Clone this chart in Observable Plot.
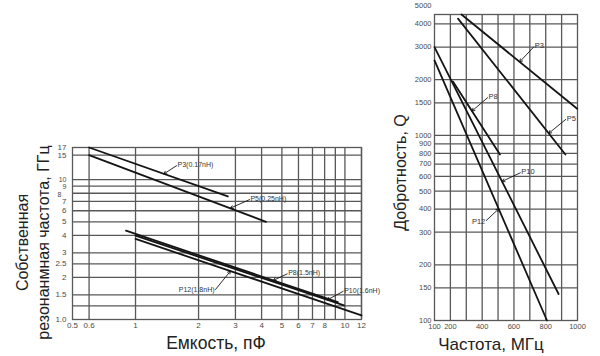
<!DOCTYPE html>
<html><head><meta charset="utf-8">
<script src="https://cdn.jsdelivr.net/npm/d3@7"></script>
<script src="https://cdn.jsdelivr.net/npm/@observablehq/plot@0.6"></script>
<style>
body{margin:0;background:#fff;}
#wrap{position:relative;width:600px;height:356px;overflow:hidden;background:#fff;}
#left{position:absolute;left:0;top:0;}
#right{position:absolute;left:390px;top:0;}
</style></head><body><div id="wrap"><div id="left"></div><div id="right"></div></div>
<script>
// ---- Left chart: self-resonant frequency vs capacitance ----
const srfSeries = ["P3(0.17nH)", "P5(0.25nH)", "P8(1.5nH)", "P10(1.6nH)", "P12(1.8nH)"];
const srfCapStart = [0.6, 0.6, 0.9, 1.0, 1.0];
const srfCapEnd = [2.76, 4.2, 9.25, 9.9, 12];
const srfFreqStart = [17, 15, 4.32, 3.98, 3.77];
const srfFreqEnd = [7.6, 5.0, 1.33, 1.26, 1.07];
// label anchor (leader start) and leader end point on line
const srfLabelCap = [1.57, 3.5, 5.3, 9.81, 2.41];
const srfLabelFreq = [12.6, 7.2, 2.12, 1.59, 1.64];
const srfPointCap = [1.365, 2.84, 4.55, 8.23, 2.84];
const srfPointFreq = [11.0, 6.26, 1.905, 1.38, 2.22];
const srfLabelSide = ["start", "start", "start", "start", "end"];

const capTicks = [0.5, 0.6, 1, 2, 3, 4, 5, 6, 7, 8, 10, 12];
const capGrid = [0.6, 1, 2, 3, 4, 5, 6, 7, 8, 9, 10, 12];
const freqTicks = [1, 1.5, 2, 2.5, 3, 4, 5, 6, 7, 8, 9, 10, 15, 17];
const freqTickLabels = ["1.0", "1.5", "2", "2.5", "3", "4", "5", "6", "7", "8", "9", "10", "15", "17"];
const freqGrid = [1.25, 1.5, 2, 2.5, 3, 4, 5, 6, 7, 8, 9, 10, 15];
const crowdedFreqTicks = [8, 9, 10];

// ---- Right chart: Q vs frequency ----
const qSeries = ["P3", "P5", "P8", "P10", "P12"];
const qFreqStart = [270, 248, 216, 100, 100];
const qFreqEnd = [998, 924, 512, 881, 808];
const qStart = [4500, 4276, 1958, 3000, 2540];
const qEnd = [1394, 789, 789, 139, 100];
const qLabelFreq = [724, 926, 434, 640, 426];
const qLabelQ = [3000, 1220, 1599, 628, 347];
const qPointFreq = [636, 819, 336, 525, 504];
const qPointQ = [2497, 1026, 1354, 564, 401];
const qLabelSide = ["start", "start", "start", "start", "end"];

const mhzTicks = [100, 200, 400, 600, 800, 1000];
const mhzGrid = [200, 300, 400, 500, 600, 700, 800, 900];
const qTicks = [100, 150, 200, 300, 400, 500, 600, 700, 800, 900, 1000, 1500, 2000, 3000, 4000, 5000];
const qGrid = [150, 200, 300, 400, 500, 600, 700, 800, 900, 1000, 1500, 2000, 3000, 4000];

const FONT = "'Liberation Sans', Arial, sans-serif";
const GRID = "#585858";
const LINE = "#151515";
const TICK = "#4a4a4a";

const srfLines = srfSeries.flatMap((s, i) => [
  {s, c: srfCapStart[i], f: srfFreqStart[i]},
  {s, c: srfCapEnd[i], f: srfFreqEnd[i]}
]);
const srfLabels = srfSeries.map((s, i) => ({s, x1: srfLabelCap[i], y1: srfLabelFreq[i], x2: srfPointCap[i], y2: srfPointFreq[i], side: srfLabelSide[i]}));
const freqTickRows = freqTicks.map((t, i) => ({t, label: freqTickLabels[i]}));

const left = Plot.plot({
  width: 390, height: 356,
  marginLeft: 72, marginRight: 29, marginTop: 147, marginBottom: 37,
  style: {background: "transparent", fontFamily: FONT},
  x: {type: "log", domain: [0.5, 12], axis: null},
  y: {type: "log", domain: [1, 17], axis: null},
  marks: [
    Plot.ruleX(capGrid, {stroke: GRID, strokeWidth: 1.3}),
    Plot.ruleY(freqGrid, {stroke: GRID, strokeWidth: 1.3}),
    Plot.frame({stroke: GRID, strokeWidth: 1.3}),
    Plot.text(capTicks, {x: d => d, text: d => String(d), frameAnchor: "bottom", lineAnchor: "middle", dy: 6, fontSize: 8, fill: TICK}),
    Plot.text(freqTickRows.filter(d => !crowdedFreqTicks.includes(d.t)), {y: "t", text: "label", frameAnchor: "left", textAnchor: "end", lineAnchor: "middle", dx: -6, fontSize: 8, fill: TICK}),
    // crowded labels 10 / 9 / 8, nudged apart as in the original drawing
    Plot.text(freqTickRows.filter(d => d.t === 10), {y: "t", text: "label", frameAnchor: "left", textAnchor: "end", lineAnchor: "bottom", dx: -6, dy: 2, fontSize: 7, fill: TICK}),
    Plot.text(freqTickRows.filter(d => d.t === 9), {y: "t", text: "label", frameAnchor: "left", textAnchor: "end", lineAnchor: "middle", dx: -6, dy: 1, fontSize: 7, fill: TICK}),
    Plot.text(freqTickRows.filter(d => d.t === 8), {y: "t", text: "label", frameAnchor: "left", textAnchor: "end", lineAnchor: "top", dx: -11, dy: -1, fontSize: 7, fill: TICK}),
    Plot.line(srfLines, {x: "c", y: "f", z: "s", stroke: LINE, strokeWidth: 1.8}),
    Plot.arrow(srfLabels, {x1: "x1", y1: "y1", x2: "x2", y2: "y2", stroke: LINE, strokeWidth: 0.9, headLength: 5}),
    Plot.text(srfLabels.filter(d => d.side === "start"), {x: "x1", y: "y1", text: "s", textAnchor: "start", dx: 1, dy: -1, fontSize: 7, fill: "#333"}),
    Plot.text(srfLabels.filter(d => d.side === "end"), {x: "x1", y: "y1", text: "s", textAnchor: "end", dx: -1, dy: 0, fontSize: 7, fill: "#333"}),
    Plot.text(["Собственная"], {frameAnchor: "left", textAnchor: "middle", lineAnchor: "middle", dx: -50, dy: 9, rotate: -90, fontSize: 16, fill: "#222"}),
    Plot.text(["резонанмная частота, ГГц"], {frameAnchor: "left", textAnchor: "middle", lineAnchor: "middle", dx: -29, dy: 9, rotate: -90, fontSize: 16, fill: "#222"}),
    Plot.text(["Емкость, пФ"], {frameAnchor: "bottom", textAnchor: "middle", lineAnchor: "middle", dx: -1, dy: 24, fontSize: 17.5, fill: "#222"})
  ]
});
document.getElementById("left").appendChild(left);

const qLines = qSeries.flatMap((s, i) => [
  {s, f: qFreqStart[i], q: qStart[i]},
  {s, f: qFreqEnd[i], q: qEnd[i]}
]);
const qLabels = qSeries.map((s, i) => ({s, x1: qLabelFreq[i], y1: qLabelQ[i], x2: qPointFreq[i], y2: qPointQ[i], side: qLabelSide[i]}));

const right = Plot.plot({
  width: 210, height: 356,
  marginLeft: 44, marginRight: 23, marginTop: 14, marginBottom: 36,
  style: {background: "transparent", fontFamily: FONT},
  x: {domain: [100, 1000], axis: null},
  y: {type: "log", domain: [100, 4500], axis: null},
  marks: [
    Plot.ruleX(mhzGrid, {stroke: GRID, strokeWidth: 1.3}),
    Plot.ruleY(qGrid, {stroke: GRID, strokeWidth: 1.3}),
    Plot.frame({stroke: GRID, strokeWidth: 1.3}),
    Plot.text(mhzTicks, {x: d => d, text: d => String(d), frameAnchor: "bottom", lineAnchor: "middle", dy: 6, fontSize: 7.5, fill: TICK}),
    Plot.text(qTicks, {y: d => d, text: d => String(d), frameAnchor: "left", textAnchor: "end", lineAnchor: "middle", dx: -3, fontSize: 7.5, fill: TICK}),
    Plot.line(qLines, {x: "f", y: "q", z: "s", stroke: LINE, strokeWidth: 1.8}),
    Plot.arrow(qLabels, {x1: "x1", y1: "y1", x2: "x2", y2: "y2", stroke: LINE, strokeWidth: 0.9, headLength: 5}),
    Plot.text(qLabels.filter(d => d.side === "start"), {x: "x1", y: "y1", text: "s", textAnchor: "start", dx: 1, dy: -1, fontSize: 7.5, fill: "#333"}),
    Plot.text(qLabels.filter(d => d.side === "end"), {x: "x1", y: "y1", text: "s", textAnchor: "end", dx: -1, dy: 1, fontSize: 7.5, fill: "#333"}),
    Plot.text(["Добротность, Q"], {frameAnchor: "left", textAnchor: "middle", lineAnchor: "middle", dx: -34, dy: 5, rotate: -90, fontSize: 16, fill: "#222"}),
    Plot.text(["Частота, МГц"], {frameAnchor: "bottom", textAnchor: "middle", lineAnchor: "middle", dx: -15, dy: 24, fontSize: 17, fill: "#222"})
  ]
});
document.getElementById("right").appendChild(right);
</script></body></html>
